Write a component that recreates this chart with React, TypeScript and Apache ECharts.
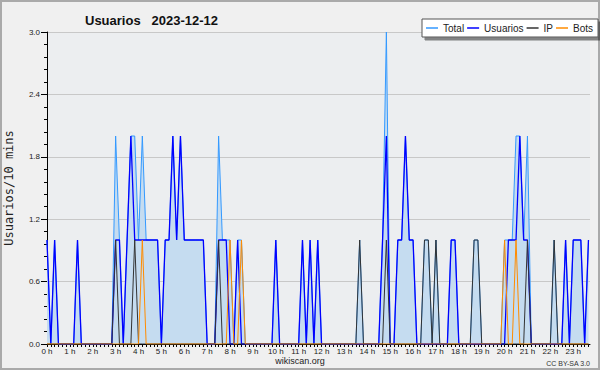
import { useEffect, useRef } from "react";
import * as echarts from "echarts";

const TITLE = "Usuarios   2023-12-12";
const Y_NAME = "Usuarios/10 mins";
const X_NAME = "wikiscan.org";
const LICENSE = "CC BY-SA 3.0";
const SERIES_NAMES = ["Total", "Usuarios", "IP", "Bots"];
const HOUR_LABELS = [
  "0 h", "1 h", "2 h", "3 h", "4 h", "5 h", "6 h", "7 h", "8 h", "9 h", "10 h", "11 h",
  "12 h", "13 h", "14 h", "15 h", "16 h", "17 h", "18 h", "19 h", "20 h", "21 h", "22 h", "23 h",
];

// one value per 10 minutes, 0:00 .. 23:40
const total = [
  1, 0, 1, 0, 0, 0, 0, 0, 1, 0, 0, 0,
  0, 0, 0, 0, 0, 0, 2, 1, 0, 1, 2, 2,
  1, 2, 1, 1, 1, 1, 0, 1, 1, 2, 1, 2,
  1, 1, 1, 1, 1, 1, 0, 0, 0, 2, 1, 1,
  1, 0, 1, 1, 0, 0, 0, 0, 0, 0, 0, 0,
  1, 0, 0, 0, 0, 0, 0, 1, 0, 1, 0, 1,
  0, 0, 0, 0, 0, 0, 0, 0, 0, 0, 1, 0,
  0, 0, 0, 0, 1, 3, 0, 0, 1, 1, 2, 1,
  1, 0, 0, 1, 1, 0, 1, 0, 0, 0, 1, 1,
  0, 0, 0, 0, 1, 1, 0, 0, 0, 0, 0, 0,
  1, 1, 1, 2, 2, 1, 2, 0, 0, 0, 0, 0,
  0, 1, 0, 0, 1, 0, 1, 1, 1, 0, 1,
];
const usuarios = [
  1, 0, 1, 0, 0, 0, 0, 0, 1, 0, 0, 0,
  0, 0, 0, 0, 0, 0, 1, 1, 0, 1, 2, 1,
  1, 1, 1, 1, 1, 1, 0, 1, 1, 2, 1, 2,
  1, 1, 1, 1, 1, 1, 0, 0, 0, 1, 1, 1,
  0, 0, 1, 0, 0, 0, 0, 0, 0, 0, 0, 0,
  1, 0, 0, 0, 0, 0, 0, 1, 0, 1, 0, 1,
  0, 0, 0, 0, 0, 0, 0, 0, 0, 0, 0, 0,
  0, 0, 0, 0, 1, 2, 0, 0, 1, 1, 2, 1,
  1, 0, 0, 0, 0, 0, 0, 0, 0, 0, 1, 1,
  0, 0, 0, 0, 0, 0, 0, 0, 0, 0, 0, 0,
  0, 1, 1, 1, 2, 1, 1, 0, 0, 0, 0, 0,
  0, 0, 0, 0, 1, 0, 1, 1, 1, 0, 1,
];
const ip = [
  0, 0, 0, 0, 0, 0, 0, 0, 0, 0, 0, 0,
  0, 0, 0, 0, 0, 0, 1, 0, 0, 0, 0, 1,
  0, 0, 0, 0, 0, 0, 0, 0, 0, 0, 0, 0,
  0, 0, 0, 0, 0, 0, 0, 0, 0, 1, 0, 0,
  0, 0, 0, 0, 0, 0, 0, 0, 0, 0, 0, 0,
  0, 0, 0, 0, 0, 0, 0, 0, 0, 0, 0, 0,
  0, 0, 0, 0, 0, 0, 0, 0, 0, 0, 1, 0,
  0, 0, 0, 0, 0, 1, 0, 0, 0, 0, 0, 0,
  0, 0, 0, 1, 1, 0, 1, 0, 0, 0, 0, 0,
  0, 0, 0, 0, 1, 1, 0, 0, 0, 0, 0, 0,
  0, 0, 0, 0, 0, 0, 1, 0, 0, 0, 0, 0,
  0, 1, 0, 0, 0, 0, 0, 0, 0, 0, 0,
];
const bots = [
  0, 0, 0, 0, 0, 0, 0, 0, 0, 0, 0, 0,
  0, 0, 0, 0, 0, 0, 0, 0, 0, 0, 0, 0,
  0, 1, 0, 0, 0, 0, 0, 0, 0, 0, 0, 0,
  0, 0, 0, 0, 0, 0, 0, 0, 0, 0, 0, 0,
  1, 0, 0, 1, 0, 0, 0, 0, 0, 0, 0, 0,
  0, 0, 0, 0, 0, 0, 0, 0, 0, 0, 0, 0,
  0, 0, 0, 0, 0, 0, 0, 0, 0, 0, 0, 0,
  0, 0, 0, 0, 0, 0, 0, 0, 0, 0, 0, 0,
  0, 0, 0, 0, 0, 0, 0, 0, 0, 0, 0, 0,
  0, 0, 0, 0, 0, 0, 0, 0, 0, 0, 0, 0,
  1, 0, 0, 1, 0, 0, 0, 0, 0, 0, 0, 0,
  0, 0, 0, 0, 0, 0, 0, 0, 0, 0, 0,
];

const COLORS = ["#3399ff", "#0000ff", "#333333", "#ff8c00"];
const FONT = "'Liberation Sans', Arial, sans-serif";

export default function App() {
  const ref = useRef<HTMLDivElement>(null);
  useEffect(() => {
    if (!ref.current) return;
    const chart = echarts.init(ref.current, null, { renderer: "svg" });
    const toPairs = (arr: number[]) => arr.map((v, i) => [i, v]);
    const datasets = [total, usuarios, ip, bots];
    const widths = [1, 1.3, 1, 1];
    chart.setOption({
      animation: false,
      backgroundColor: "#f0f0f0",
      textStyle: { fontFamily: FONT },
      title: {
        text: TITLE,
        left: 80,
        top: 9,
        textStyle: { fontSize: 13, fontWeight: "bold", color: "#111", fontFamily: FONT },
      },
      legend: {
        left: 422,
        top: 19,
        padding: [4, 5, 4, 4],
        itemGap: 3,
        itemWidth: 12,
        itemHeight: 1.5,
        icon: "rect",
        backgroundColor: "#ffffff",
        borderColor: "#555",
        borderWidth: 1,
        shadowColor: "rgba(0,0,0,0.45)",
        shadowOffsetX: 3,
        shadowOffsetY: 3,
        shadowBlur: 0,
        textStyle: { fontSize: 10, color: "#222", fontFamily: FONT, lineHeight: 10 },
        data: SERIES_NAMES,
      },
      grid: {
        left: 47,
        right: 10,
        top: 32,
        bottom: 26,
        outerBoundsMode: "none",
        containLabel: false,
        show: true,
        backgroundColor: "#eceef0",
        borderWidth: 0,
      },
      xAxis: {
        type: "value",
        min: 0,
        max: 142.4,
        interval: 1,
        axisLine: { show: true, lineStyle: { color: "#000", width: 1 } },
        axisTick: { show: true, length: 3, lineStyle: { color: "#000" } },
        splitLine: { show: false },
        axisLabel: {
          margin: 3,
          fontSize: 8,
          color: "#222",
          fontFamily: FONT,
          showMinLabel: true,
          showMaxLabel: false,
          formatter: (v: number) => {
            const r = Math.round(v);
            if (Math.abs(v - r) < 1e-6 && r % 6 === 0) return HOUR_LABELS[r / 6] ?? "";
            return "";
          },
        },
      },
      yAxis: {
        type: "value",
        min: 0,
        max: 3,
        interval: 0.6,
        name: Y_NAME,
        nameLocation: "middle",
        nameRotate: 90,
        nameGap: 32,
        nameTextStyle: { fontSize: 12, color: "#222", fontFamily: "'DejaVu Sans Mono', monospace" },
        axisLine: { show: true, lineStyle: { color: "#000", width: 1 } },
        axisTick: { show: true, length: 6, lineStyle: { color: "#000" } },
        minorTick: { show: true, splitNumber: 5, length: 3, lineStyle: { color: "#000" } },
        splitLine: { show: true, lineStyle: { color: "#c8c8c8", width: 1 } },
        axisLabel: {
          margin: 7,
          fontSize: 8,
          color: "#222",
          fontFamily: FONT,
          formatter: (v: number) => v.toFixed(1),
        },
      },
      series: SERIES_NAMES.map((name, k) => ({
        name,
        type: "line",
        data: toPairs(datasets[k]),
        symbol: "none",
        showSymbol: false,
        clip: true,
        color: COLORS[k],
        lineStyle: { color: COLORS[k], width: widths[k] },
        areaStyle: k === 0 ? { color: "#c5dcf0", opacity: 1 } : undefined,
        z: 2 + k,
      })),
      graphic: [
        {
          type: "rect",
          shape: { x: 1, y: 1, width: 598, height: 368 },
          style: { fill: "none", stroke: "#aaaaaa", lineWidth: 2 },
          silent: true,
        },
        {
          type: "text",
          x: 300,
          y: 361,
          style: { text: X_NAME, fontSize: 9, fill: "#222", align: "center", verticalAlign: "middle", fontFamily: FONT },
        },
        {
          type: "text",
          x: 590,
          y: 363,
          style: { text: LICENSE, fontSize: 7, fill: "#333", align: "right", verticalAlign: "middle", fontFamily: FONT },
        },
      ],
    });
    return () => chart.dispose();
  }, []);
  return (
    <div
      ref={ref}
      style={{ position: "fixed", left: 0, top: 0, width: 600, height: 370 }}
    />
  );
}
